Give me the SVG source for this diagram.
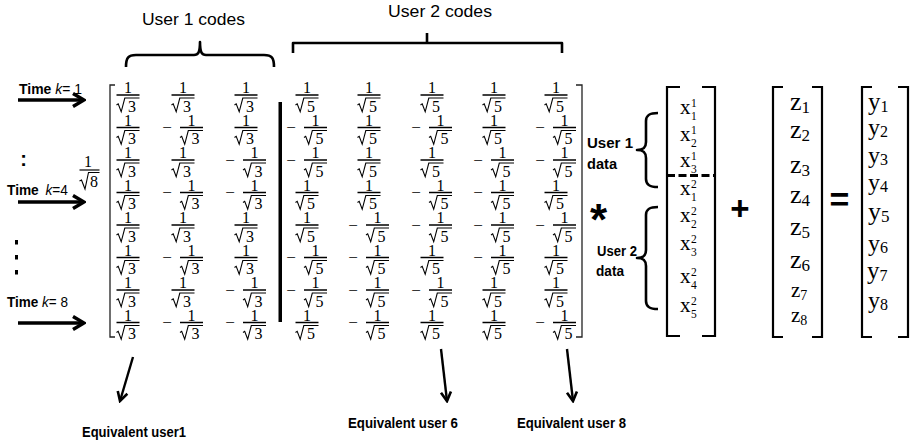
<svg xmlns="http://www.w3.org/2000/svg" xmlns:xlink="http://www.w3.org/1999/xlink" width="914" height="440" viewBox="0 0 914 440">
<style>
  .cap{font-family:"Liberation Sans",Arial,sans-serif;font-size:17px;fill:#000}
  .lbl{font-family:"Liberation Sans",Arial,sans-serif;font-size:14px;font-weight:bold;fill:#000}
  .tm{font-family:"Liberation Sans",Arial,sans-serif;font-size:14px;fill:#000}
  .mat{font-family:"Liberation Serif","Times New Roman",serif;font-size:16px;text-anchor:middle;fill:#000}
  .neg{font-family:"Liberation Serif","Times New Roman",serif;font-size:17px;text-anchor:middle;fill:#000}
  .vec{font-family:"Liberation Serif","DejaVu Serif",serif;fill:#000}
  .op{font-family:"Liberation Sans",Arial,sans-serif;font-weight:bold;fill:#000;text-anchor:middle}
  .brk{fill:none;stroke:#222;stroke-width:1.3}
  .vbrk{fill:none;stroke:#000;stroke-width:2.2}
  .brace{fill:none;stroke:#000;stroke-width:2.6;stroke-linejoin:round}
  .arr{stroke:#000;stroke-width:3.5;fill:none}
  .arr2{stroke:#000;stroke-width:2.4;fill:none}
</style>
<defs>
  <!-- fraction bar with radical sign beneath, centred on the origin -->
  <g id="rad" fill="none" stroke="#000">
    <path d="M-11.5,0H11.5" stroke-width="1.5"/>
    <path d="M-11.5,10 L-9.8,8.8 L-6.8,16.8 L-3.2,3 H11.5" stroke-width="1.1"/>
  </g>
  <marker id="headL" viewBox="-13 -8 15 16" markerWidth="15" markerHeight="16" refX="0" refY="0" orient="auto" markerUnits="userSpaceOnUse">
    <path d="M-11,-6.5 L0,0 L-11,6.5" fill="none" stroke="#000" stroke-width="3.5"/>
  </marker>
  <marker id="headS" viewBox="-11 -7 13 14" markerWidth="13" markerHeight="14" refX="0" refY="0" orient="auto" markerUnits="userSpaceOnUse">
    <path d="M-9,-5 L0,0 L-9,5" fill="none" stroke="#000" stroke-width="2.6"/>
  </marker>
</defs>

<!-- code group captions and braces -->
<g id="user1-codes">
  <text class="cap" x="142" y="24.5" textLength="103" lengthAdjust="spacingAndGlyphs">User 1 codes</text>
  <path class="brace" d="M126,67 C126,58 128,55 136,55 H194 C198,55 200,53 200,42 C200,53 202,55 206,55 H264 C272,55 274,58 274,67"/>
</g>
<g id="user2-codes">
  <text class="cap" x="388" y="16.7" textLength="104" lengthAdjust="spacingAndGlyphs">User 2 codes</text>
  <path class="brace" stroke-linejoin="miter" d="M293,53 V43 H562 V53 M427,43 V33"/>
</g>

<!-- time labels on the left -->
<g id="time-labels">
  <text class="tm" x="19" y="94" textLength="63" lengthAdjust="spacingAndGlyphs"><tspan font-weight="bold">Time</tspan> <tspan font-style="italic">k</tspan>= 1</text>
  <text class="tm" x="7" y="195" textLength="61" lengthAdjust="spacingAndGlyphs"><tspan font-weight="bold">Time</tspan> <tspan font-style="italic" dx="3">k</tspan>=4</text>
  <text class="tm" x="7" y="307" textLength="61" lengthAdjust="spacingAndGlyphs"><tspan font-weight="bold">Time</tspan> <tspan font-style="italic">k</tspan>= 8</text>
  <text class="op" x="23.5" y="166" font-size="20">:</text>
  <rect x="15" y="240" width="3" height="4.5"/>
  <rect x="15" y="255" width="3" height="4.5"/>
  <rect x="15" y="270" width="3" height="4.5"/>
</g>

<!-- normalising factor -->
<g id="factor">
  <text class="mat" x="88" y="166.5" font-size="18">1</text>
  <path d="M79.5,170H99.5" stroke="#000" stroke-width="1.2"/>
  <path d="M79.5,181 L81.5,180 L85,189 L88.5,172.5 H99.5" fill="none" stroke="#000" stroke-width="1.1"/>
  <text class="mat" x="94" y="187" font-size="17">8</text>
</g>

<!-- spreading matrix -->
<g id="matrix">
  <path class="brk" d="M115,85 H110 V337 H115"/>
  <path class="brk" d="M576,85 H582 V337 H576"/>
  <rect x="278.5" y="102" width="3.5" height="220" fill="#000"/>

  <!-- row 1 -->
  <g transform="translate(128,95)"><text class="mat" y="-2">1</text><use href="#rad"/><text class="mat" x="4" y="16.5">3</text></g>
  <g transform="translate(183,95)"><text class="mat" y="-2">1</text><use href="#rad"/><text class="mat" x="4" y="16.5">3</text></g>
  <g transform="translate(246,95)"><text class="mat" y="-2">1</text><use href="#rad"/><text class="mat" x="4" y="16.5">3</text></g>
  <g transform="translate(307,95)"><text class="mat" y="-2">1</text><use href="#rad"/><text class="mat" x="4" y="16.5">5</text></g>
  <g transform="translate(369,95)"><text class="mat" y="-2">1</text><use href="#rad"/><text class="mat" x="4" y="16.5">5</text></g>
  <g transform="translate(432,95)"><text class="mat" y="-2">1</text><use href="#rad"/><text class="mat" x="4" y="16.5">5</text></g>
  <g transform="translate(494,95)"><text class="mat" y="-2">1</text><use href="#rad"/><text class="mat" x="4" y="16.5">5</text></g>
  <g transform="translate(556,95)"><text class="mat" y="-2">1</text><use href="#rad"/><text class="mat" x="4" y="16.5">5</text></g>

  <!-- row 2 -->
  <g transform="translate(128,127.5)"><text class="mat" y="-2">1</text><use href="#rad"/><text class="mat" x="4" y="16.5">3</text></g>
  <g transform="translate(191.5,127.5)"><text class="neg" x="-24.5" y="5.5">−</text><text class="mat" y="-2">1</text><use href="#rad"/><text class="mat" x="4" y="16.5">3</text></g>
  <g transform="translate(246,127.5)"><text class="mat" y="-2">1</text><use href="#rad"/><text class="mat" x="4" y="16.5">3</text></g>
  <g transform="translate(315.5,127.5)"><text class="neg" x="-24.5" y="5.5">−</text><text class="mat" y="-2">1</text><use href="#rad"/><text class="mat" x="4" y="16.5">5</text></g>
  <g transform="translate(369,127.5)"><text class="mat" y="-2">1</text><use href="#rad"/><text class="mat" x="4" y="16.5">5</text></g>
  <g transform="translate(440.5,127.5)"><text class="neg" x="-24.5" y="5.5">−</text><text class="mat" y="-2">1</text><use href="#rad"/><text class="mat" x="4" y="16.5">5</text></g>
  <g transform="translate(494,127.5)"><text class="mat" y="-2">1</text><use href="#rad"/><text class="mat" x="4" y="16.5">5</text></g>
  <g transform="translate(564.5,127.5)"><text class="neg" x="-24.5" y="5.5">−</text><text class="mat" y="-2">1</text><use href="#rad"/><text class="mat" x="4" y="16.5">5</text></g>

  <!-- row 3 -->
  <g transform="translate(128,160)"><text class="mat" y="-2">1</text><use href="#rad"/><text class="mat" x="4" y="16.5">3</text></g>
  <g transform="translate(183,160)"><text class="mat" y="-2">1</text><use href="#rad"/><text class="mat" x="4" y="16.5">3</text></g>
  <g transform="translate(254.5,160)"><text class="neg" x="-24.5" y="5.5">−</text><text class="mat" y="-2">1</text><use href="#rad"/><text class="mat" x="4" y="16.5">3</text></g>
  <g transform="translate(315.5,160)"><text class="neg" x="-24.5" y="5.5">−</text><text class="mat" y="-2">1</text><use href="#rad"/><text class="mat" x="4" y="16.5">5</text></g>
  <g transform="translate(369,160)"><text class="mat" y="-2">1</text><use href="#rad"/><text class="mat" x="4" y="16.5">5</text></g>
  <g transform="translate(432,160)"><text class="mat" y="-2">1</text><use href="#rad"/><text class="mat" x="4" y="16.5">5</text></g>
  <g transform="translate(502.5,160)"><text class="neg" x="-24.5" y="5.5">−</text><text class="mat" y="-2">1</text><use href="#rad"/><text class="mat" x="4" y="16.5">5</text></g>
  <g transform="translate(564.5,160)"><text class="neg" x="-24.5" y="5.5">−</text><text class="mat" y="-2">1</text><use href="#rad"/><text class="mat" x="4" y="16.5">5</text></g>

  <!-- row 4 -->
  <g transform="translate(128,192.5)"><text class="mat" y="-2">1</text><use href="#rad"/><text class="mat" x="4" y="16.5">3</text></g>
  <g transform="translate(191.5,192.5)"><text class="neg" x="-24.5" y="5.5">−</text><text class="mat" y="-2">1</text><use href="#rad"/><text class="mat" x="4" y="16.5">3</text></g>
  <g transform="translate(254.5,192.5)"><text class="neg" x="-24.5" y="5.5">−</text><text class="mat" y="-2">1</text><use href="#rad"/><text class="mat" x="4" y="16.5">3</text></g>
  <g transform="translate(307,192.5)"><text class="mat" y="-2">1</text><use href="#rad"/><text class="mat" x="4" y="16.5">5</text></g>
  <g transform="translate(369,192.5)"><text class="mat" y="-2">1</text><use href="#rad"/><text class="mat" x="4" y="16.5">5</text></g>
  <g transform="translate(440.5,192.5)"><text class="neg" x="-24.5" y="5.5">−</text><text class="mat" y="-2">1</text><use href="#rad"/><text class="mat" x="4" y="16.5">5</text></g>
  <g transform="translate(502.5,192.5)"><text class="neg" x="-24.5" y="5.5">−</text><text class="mat" y="-2">1</text><use href="#rad"/><text class="mat" x="4" y="16.5">5</text></g>
  <g transform="translate(556,192.5)"><text class="mat" y="-2">1</text><use href="#rad"/><text class="mat" x="4" y="16.5">5</text></g>

  <!-- row 5 -->
  <g transform="translate(128,225)"><text class="mat" y="-2">1</text><use href="#rad"/><text class="mat" x="4" y="16.5">3</text></g>
  <g transform="translate(183,225)"><text class="mat" y="-2">1</text><use href="#rad"/><text class="mat" x="4" y="16.5">3</text></g>
  <g transform="translate(246,225)"><text class="mat" y="-2">1</text><use href="#rad"/><text class="mat" x="4" y="16.5">3</text></g>
  <g transform="translate(307,225)"><text class="mat" y="-2">1</text><use href="#rad"/><text class="mat" x="4" y="16.5">5</text></g>
  <g transform="translate(377.5,225)"><text class="neg" x="-24.5" y="5.5">−</text><text class="mat" y="-2">1</text><use href="#rad"/><text class="mat" x="4" y="16.5">5</text></g>
  <g transform="translate(440.5,225)"><text class="neg" x="-24.5" y="5.5">−</text><text class="mat" y="-2">1</text><use href="#rad"/><text class="mat" x="4" y="16.5">5</text></g>
  <g transform="translate(502.5,225)"><text class="neg" x="-24.5" y="5.5">−</text><text class="mat" y="-2">1</text><use href="#rad"/><text class="mat" x="4" y="16.5">5</text></g>
  <g transform="translate(564.5,225)"><text class="neg" x="-24.5" y="5.5">−</text><text class="mat" y="-2">1</text><use href="#rad"/><text class="mat" x="4" y="16.5">5</text></g>

  <!-- row 6 -->
  <g transform="translate(128,257.5)"><text class="mat" y="-2">1</text><use href="#rad"/><text class="mat" x="4" y="16.5">3</text></g>
  <g transform="translate(191.5,257.5)"><text class="neg" x="-24.5" y="5.5">−</text><text class="mat" y="-2">1</text><use href="#rad"/><text class="mat" x="4" y="16.5">3</text></g>
  <g transform="translate(246,257.5)"><text class="mat" y="-2">1</text><use href="#rad"/><text class="mat" x="4" y="16.5">3</text></g>
  <g transform="translate(315.5,257.5)"><text class="neg" x="-24.5" y="5.5">−</text><text class="mat" y="-2">1</text><use href="#rad"/><text class="mat" x="4" y="16.5">5</text></g>
  <g transform="translate(377.5,257.5)"><text class="neg" x="-24.5" y="5.5">−</text><text class="mat" y="-2">1</text><use href="#rad"/><text class="mat" x="4" y="16.5">5</text></g>
  <g transform="translate(432,257.5)"><text class="mat" y="-2">1</text><use href="#rad"/><text class="mat" x="4" y="16.5">5</text></g>
  <g transform="translate(502.5,257.5)"><text class="neg" x="-24.5" y="5.5">−</text><text class="mat" y="-2">1</text><use href="#rad"/><text class="mat" x="4" y="16.5">5</text></g>
  <g transform="translate(556,257.5)"><text class="mat" y="-2">1</text><use href="#rad"/><text class="mat" x="4" y="16.5">5</text></g>

  <!-- row 7 -->
  <g transform="translate(128,290)"><text class="mat" y="-2">1</text><use href="#rad"/><text class="mat" x="4" y="16.5">3</text></g>
  <g transform="translate(183,290)"><text class="mat" y="-2">1</text><use href="#rad"/><text class="mat" x="4" y="16.5">3</text></g>
  <g transform="translate(254.5,290)"><text class="neg" x="-24.5" y="5.5">−</text><text class="mat" y="-2">1</text><use href="#rad"/><text class="mat" x="4" y="16.5">3</text></g>
  <g transform="translate(315.5,290)"><text class="neg" x="-24.5" y="5.5">−</text><text class="mat" y="-2">1</text><use href="#rad"/><text class="mat" x="4" y="16.5">5</text></g>
  <g transform="translate(377.5,290)"><text class="neg" x="-24.5" y="5.5">−</text><text class="mat" y="-2">1</text><use href="#rad"/><text class="mat" x="4" y="16.5">5</text></g>
  <g transform="translate(440.5,290)"><text class="neg" x="-24.5" y="5.5">−</text><text class="mat" y="-2">1</text><use href="#rad"/><text class="mat" x="4" y="16.5">5</text></g>
  <g transform="translate(494,290)"><text class="mat" y="-2">1</text><use href="#rad"/><text class="mat" x="4" y="16.5">5</text></g>
  <g transform="translate(556,290)"><text class="mat" y="-2">1</text><use href="#rad"/><text class="mat" x="4" y="16.5">5</text></g>

  <!-- row 8 -->
  <g transform="translate(128,322.5)"><text class="mat" y="-2">1</text><use href="#rad"/><text class="mat" x="4" y="16.5">3</text></g>
  <g transform="translate(191.5,322.5)"><text class="neg" x="-24.5" y="5.5">−</text><text class="mat" y="-2">1</text><use href="#rad"/><text class="mat" x="4" y="16.5">3</text></g>
  <g transform="translate(254.5,322.5)"><text class="neg" x="-24.5" y="5.5">−</text><text class="mat" y="-2">1</text><use href="#rad"/><text class="mat" x="4" y="16.5">3</text></g>
  <g transform="translate(307,322.5)"><text class="mat" y="-2">1</text><use href="#rad"/><text class="mat" x="4" y="16.5">5</text></g>
  <g transform="translate(377.5,322.5)"><text class="neg" x="-24.5" y="5.5">−</text><text class="mat" y="-2">1</text><use href="#rad"/><text class="mat" x="4" y="16.5">5</text></g>
  <g transform="translate(432,322.5)"><text class="mat" y="-2">1</text><use href="#rad"/><text class="mat" x="4" y="16.5">5</text></g>
  <g transform="translate(494,322.5)"><text class="mat" y="-2">1</text><use href="#rad"/><text class="mat" x="4" y="16.5">5</text></g>
  <g transform="translate(564.5,322.5)"><text class="neg" x="-24.5" y="5.5">−</text><text class="mat" y="-2">1</text><use href="#rad"/><text class="mat" x="4" y="16.5">5</text></g>
</g>

<!-- data labels and braces -->
<g id="user1-data">
  <text class="lbl" x="587" y="148" textLength="46" lengthAdjust="spacingAndGlyphs">User 1</text>
  <text class="lbl" x="587" y="168.5" textLength="30" lengthAdjust="spacingAndGlyphs">data</text>
  <path class="brace" d="M658,113 C650,113 646,115 646,121 V142 C646,148 643,150 637,150 C643,150 646,152 646,158 V179 C646,185 650,187 658,187"/>
</g>
<g id="user2-data">
  <text class="lbl" x="597" y="256" textLength="40" lengthAdjust="spacingAndGlyphs">User 2</text>
  <text class="lbl" x="596" y="276" textLength="28" lengthAdjust="spacingAndGlyphs">data</text>
  <path class="brace" d="M658,207 C650,207 646,209 646,215 V250 C646,256 643,258 637,258 C643,258 646,260 646,266 V301 C646,307 650,309 658,309"/>
</g>

<text id="times" class="op" x="598.5" y="235" font-size="44">*</text>

<!-- data vector -->
<g id="data-vector">
  <path class="vbrk" d="M680,87 H667 V336 H680 M702,87 H715 V336 H702"/>
  <path d="M667,175.5 H715" stroke="#000" stroke-width="3" stroke-dasharray="8,3.5"/>
  <text class="vec" font-size="21" x="680" y="114">x<tspan x="691" dy="-7" font-size="11.5">1</tspan><tspan x="691" dy="13" font-size="11.5">1</tspan></text>
  <text class="vec" font-size="21" x="680" y="141">x<tspan x="691" dy="-7" font-size="11.5">1</tspan><tspan x="691" dy="13" font-size="11.5">2</tspan></text>
  <text class="vec" font-size="21" x="680" y="167">x<tspan x="691" dy="-7" font-size="11.5">1</tspan><tspan x="691" dy="13" font-size="11.5">3</tspan></text>
  <text class="vec" font-size="21" x="680" y="195">x<tspan x="691" dy="-7" font-size="11.5">2</tspan><tspan x="691" dy="13" font-size="11.5">1</tspan></text>
  <text class="vec" font-size="21" x="680" y="222">x<tspan x="691" dy="-7" font-size="11.5">2</tspan><tspan x="691" dy="13" font-size="11.5">2</tspan></text>
  <text class="vec" font-size="21" x="680" y="250">x<tspan x="691" dy="-7" font-size="11.5">2</tspan><tspan x="691" dy="13" font-size="11.5">3</tspan></text>
  <text class="vec" font-size="21" x="680" y="283">x<tspan x="691" dy="-7" font-size="11.5">2</tspan><tspan x="691" dy="13" font-size="11.5">4</tspan></text>
  <text class="vec" font-size="21" x="680" y="312">x<tspan x="691" dy="-7" font-size="11.5">2</tspan><tspan x="691" dy="13" font-size="11.5">5</tspan></text>
</g>

<text id="plus" class="op" x="740" y="220" font-size="33">+</text>

<!-- noise vector -->
<g id="noise-vector">
  <path class="vbrk" d="M783,87 H773 V337 H783 M812,87 H822 V337 H812"/>
  <text class="vec" font-size="26" x="790" y="110">z<tspan font-size="17" dy="3">1</tspan></text>
  <text class="vec" font-size="26" x="790" y="138">z<tspan font-size="17" dy="3">2</tspan></text>
  <text class="vec" font-size="26" x="790" y="173">z<tspan font-size="17" dy="3">3</tspan></text>
  <text class="vec" font-size="26" x="790" y="203">z<tspan font-size="17" dy="3">4</tspan></text>
  <text class="vec" font-size="26" x="790" y="235">z<tspan font-size="17" dy="3">5</tspan></text>
  <text class="vec" font-size="26" x="790" y="268">z<tspan font-size="17" dy="3">6</tspan></text>
  <text class="vec" font-size="21" x="791" y="297">z<tspan font-size="14" dy="3">7</tspan></text>
  <text class="vec" font-size="21" x="791" y="322">z<tspan font-size="14" dy="3">8</tspan></text>
</g>

<text id="equals" class="op" x="839.5" y="211" font-size="34">=</text>

<!-- received vector -->
<g id="received-vector">
  <path class="vbrk" d="M872,87 H862 V337 H872 M898,87 H908 V337 H898"/>
  <text class="vec" font-size="25" x="868" y="110">y<tspan font-size="16" dy="2">1</tspan></text>
  <text class="vec" font-size="24" x="868" y="135">y<tspan font-size="16" dy="2">2</tspan></text>
  <text class="vec" font-size="24" x="868" y="163">y<tspan font-size="16" dy="2">3</tspan></text>
  <text class="vec" font-size="24" x="868" y="190">y<tspan font-size="16" dy="2">4</tspan></text>
  <text class="vec" font-size="26" x="868" y="220">y<tspan font-size="17" dy="2">5</tspan></text>
  <text class="vec" font-size="24" x="868" y="251">y<tspan font-size="16" dy="2">6</tspan></text>
  <text class="vec" font-size="25" x="867" y="279">y<tspan font-size="16" dy="2">7</tspan></text>
  <text class="vec" font-size="24" x="868" y="308">y<tspan font-size="16" dy="2">8</tspan></text>
</g>

<!-- equivalent-user labels -->
<g id="equivalent-labels">
  <text class="lbl" x="82" y="436.5" textLength="104" lengthAdjust="spacingAndGlyphs">Equivalent user1</text>
  <text class="lbl" x="348" y="427.5" textLength="110" lengthAdjust="spacingAndGlyphs">Equivalent user 6</text>
  <text class="lbl" x="517" y="427.5" textLength="109" lengthAdjust="spacingAndGlyphs">Equivalent user 8</text>
</g>

<!-- connectors -->
<g id="connectors">
  <line class="arr" x1="18" y1="100" x2="84" y2="100" marker-end="url(#headL)"/>
  <line class="arr" x1="18" y1="202" x2="84" y2="202" marker-end="url(#headL)"/>
  <line class="arr" x1="18" y1="323" x2="84" y2="323" marker-end="url(#headL)"/>
  <line class="arr2" x1="133" y1="357" x2="120" y2="401" marker-end="url(#headS)"/>
  <line class="arr2" x1="441" y1="349" x2="447" y2="401" marker-end="url(#headS)"/>
  <line class="arr2" x1="567" y1="349" x2="573" y2="401" marker-end="url(#headS)"/>
</g>
</svg>
